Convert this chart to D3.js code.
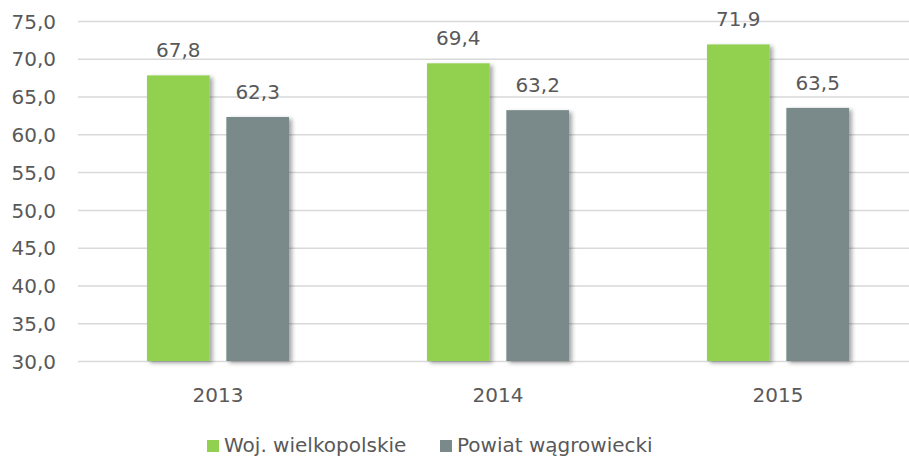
<!DOCTYPE html>
<html>
<head>
<meta charset="utf-8">
<script src="https://cdn.jsdelivr.net/npm/d3@7.9.0/dist/d3.min.js"></script>
<style>
  body { margin: 0; background: #fff; }
  svg text { font-family: "DejaVu Sans", sans-serif; fill: #595959; }
</style>
</head>
<body>
<div id="chart"></div>
<script>
const years = ["2013", "2014", "2015"];
const seriesNames = ["Woj. wielkopolskie", "Powiat wągrowiecki"];
const wojValues = [67.8, 69.4, 71.9];
const powiatValues = [62.3, 63.2, 63.5];
const yTicks = [30, 35, 40, 45, 50, 55, 60, 65, 70, 75];
const colors = ["#92d050", "#7a8a8b"];

const width = 909;
const height = 459;
const plotLeft = 78, plotRight = 918;
const yTop = 21, yBottom = 361;

const fmt = (v) => v.toFixed(1).replace(".", ",");

const rows = years.map((y, i) => ({ year: y, values: [wojValues[i], powiatValues[i]] }));

const svg = d3.select("#chart").append("svg")
  .attr("width", width)
  .attr("height", height);

// cień słupków
const defs = svg.append("defs");
defs.append("filter")
  .attr("id", "shadow")
  .attr("x", "-20%").attr("y", "-20%")
  .attr("width", "150%").attr("height", "140%")
  .append("feDropShadow")
  .attr("dx", 3).attr("dy", 2)
  .attr("stdDeviation", 2)
  .attr("flood-color", "#000")
  .attr("flood-opacity", 0.35);

const x = d3.scaleBand().domain(years).range([plotLeft, plotRight]);
const xInner = d3.scaleBand().domain([0, 1])
  .range([x.bandwidth() / 2 - 71, x.bandwidth() / 2 + 71])
  .paddingInner(0.21);
const y = d3.scaleLinear().domain([30, 75]).range([yBottom, yTop]);

// siatka
svg.append("g")
  .attr("transform", `translate(${plotLeft},0)`)
  .call(d3.axisLeft(y).tickValues(yTicks).tickSize(-(plotRight - plotLeft)).tickFormat(""))
  .call((g) => g.select(".domain").remove())
  .call((g) => g.selectAll("line").attr("stroke", "#d9d9d9").attr("stroke-width", 1.5));

// etykiety osi Y
svg.append("g")
  .attr("transform", `translate(56,0)`)
  .call(d3.axisLeft(y).tickValues(yTicks).tickSize(0).tickPadding(0).tickFormat(fmt))
  .call((g) => g.select(".domain").remove())
  .call((g) => g.selectAll("text").attr("font-size", 20).attr("dy", "0.36em"));

// słupki
const groups = svg.append("g").selectAll("g")
  .data(rows)
  .join("g")
  .attr("transform", (d) => `translate(${x(d.year)},0)`);

groups.selectAll("rect")
  .data((d) => d.values.map((v, i) => ({ v, i })))
  .join("rect")
  .attr("x", (d) => xInner(d.i))
  .attr("width", xInner.bandwidth())
  .attr("y", (d) => y(d.v))
  .attr("height", (d) => y(30) - y(d.v))
  .attr("fill", (d) => colors[d.i])
  .attr("filter", "url(#shadow)");

groups.selectAll("text.val")
  .data((d) => d.values.map((v, i) => ({ v, i })))
  .join("text")
  .attr("class", "val")
  .attr("x", (d) => xInner(d.i) + xInner.bandwidth() / 2)
  .attr("y", (d) => y(d.v) - 18)
  .attr("text-anchor", "middle")
  .attr("font-size", 20)
  .text((d) => fmt(d.v));

// oś X
svg.append("g")
  .selectAll("text")
  .data(years)
  .join("text")
  .attr("x", (d) => x(d) + x.bandwidth() / 2)
  .attr("y", 402)
  .attr("text-anchor", "middle")
  .attr("font-size", 20)
  .text((d) => d);

// legenda
const legendX = [207, 440];
const legend = svg.append("g").selectAll("g")
  .data(seriesNames)
  .join("g")
  .attr("transform", (d, i) => `translate(${legendX[i]},440)`);
legend.append("rect")
  .attr("width", 12).attr("height", 12)
  .attr("fill", (d, i) => colors[i]);
legend.append("text")
  .attr("x", 17).attr("y", 12)
  .attr("font-size", 20)
  .text((d) => d);
</script>
</body>
</html>
